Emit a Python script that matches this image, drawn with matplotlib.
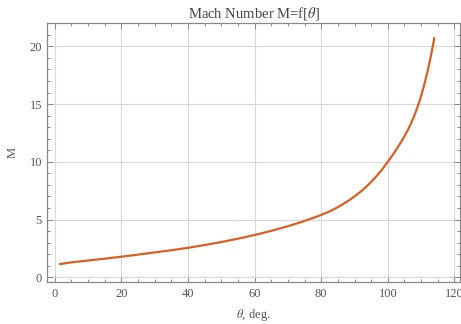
import numpy as np
import matplotlib
matplotlib.use("Agg")
import matplotlib.pyplot as plt
from matplotlib.ticker import MultipleLocator

# values
theta = [1.3, 5, 10, 15, 20, 25, 30, 35, 40, 45, 50, 55, 60, 65, 70, 74,
         78, 80, 82, 84, 86, 88, 90, 92, 94, 96, 98, 100, 102, 104, 106, 107,
         108, 109, 110, 111, 112, 113, 113.5, 114.0]
mach = [1.13, 1.29, 1.45, 1.61, 1.78, 1.96, 2.15, 2.34, 2.55, 2.79, 3.05,
        3.34, 3.66, 4.02, 4.42, 4.78, 5.18, 5.4, 5.64, 5.92, 6.24, 6.6, 7.0,
        7.45, 7.97, 8.56, 9.23, 10.0, 10.82, 11.72, 12.75, 13.35, 14.03,
        14.81, 15.71, 16.74, 17.92, 19.27, 20.0, 20.8]

LINE = "#DA5F22"
FRAME = "#888888"
TXT = "#555555"

plt.rcParams["font.family"] = ["Liberation Serif", "DejaVu Serif"]
plt.rcParams["mathtext.fontset"] = "stix"

fig = plt.figure(figsize=(4.61, 3.24), dpi=100)
ax = fig.add_axes([0.103, 0.129, 0.895, 0.799])

ax.plot(theta, mach, color=LINE, linewidth=1.6, solid_capstyle="butt",
        solid_joinstyle="round", zorder=3)

ax.set_xlim(-2.2, 121.7)
ax.set_ylim(-0.43, 22.0)
ax.xaxis.set_major_locator(MultipleLocator(20))
ax.xaxis.set_minor_locator(MultipleLocator(5))
ax.yaxis.set_major_locator(MultipleLocator(5))
ax.yaxis.set_minor_locator(MultipleLocator(1))

ax.grid(True, which="major", color="#d8d8d8", linewidth=0.8, zorder=0)
for s in ax.spines.values():
    s.set_color(FRAME)
    s.set_linewidth(0.9)

ax.tick_params(which="both", direction="in", top=True, right=True,
               color=FRAME, labelcolor=TXT, labelsize=9, width=0.7)
ax.tick_params(which="major", length=4, pad=4)
ax.tick_params(which="minor", length=2.2)

ax.set_title("Mach Number M=f[$\\theta$]", fontsize=10.5, color="#444444", pad=4)
ax.set_xlabel("$\\theta$, deg.", fontsize=9, color=TXT, labelpad=5)
ax.set_ylabel("M", fontsize=9, color=TXT, labelpad=8)

fig.savefig("out.png", dpi=100)
